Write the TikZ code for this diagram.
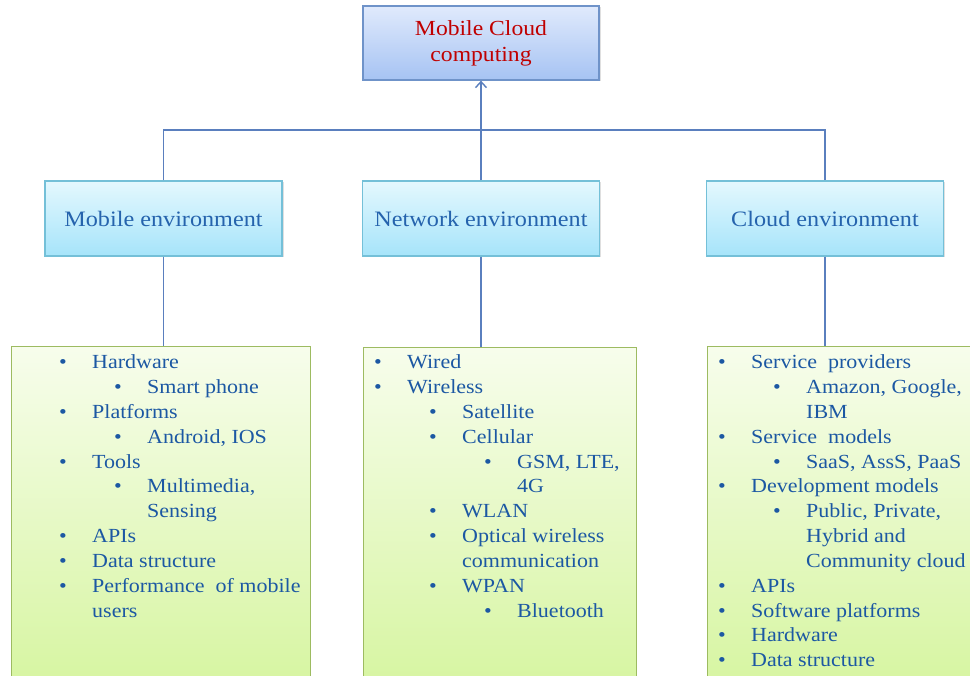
\documentclass[tikz,border=0pt]{standalone}
\usepackage{fontspec}
\setmainfont{Liberation Serif}[FakeStretch=1.1]
\usetikzlibrary{arrows.meta, positioning, shadows}
\definecolor{linkblue}{HTML}{5A7FBE}
\definecolor{titlered}{HTML}{C00000}
\definecolor{topedge}{HTML}{6F93C9}
\definecolor{toptop}{HTML}{E0EAFC}
\definecolor{topbot}{HTML}{A6C3F3}
\definecolor{envedge}{HTML}{74C0D8}
\definecolor{envtop}{HTML}{E4F8FE}
\definecolor{envbot}{HTML}{A6E4FA}
\definecolor{envtext}{HTML}{2563AD}
\definecolor{listedge}{HTML}{9DBB61}
\definecolor{listtop}{HTML}{F7FDEC}
\definecolor{listbot}{HTML}{D6F5A0}
\definecolor{itemblue}{HTML}{1C58A3}
\tikzset{
  topbox/.style={draw=topedge, line width=1.3pt, top color=toptop, bottom color=topbot, minimum width=236pt, minimum height=74pt, align=center, text=titlered, font=\fontsize{21.5}{26}\selectfont, drop shadow={shadow xshift=1.5pt, shadow yshift=-1.5pt, opacity=.25}},
  envbox/.style={draw=envedge, line width=1.3pt, top color=envtop, bottom color=envbot, minimum width=237pt, minimum height=75pt, text=envtext, font=\fontsize{22}{26}\selectfont, drop shadow={shadow xshift=1.5pt, shadow yshift=-1.5pt, opacity=.25}},
  listbox/.style={draw=listedge, line width=1.3pt, top color=listtop, bottom color=listbot, minimum height=344pt, anchor=north west, inner sep=0pt},
  item/.style={anchor=base west, inner sep=0pt, text=itemblue, font=\fontsize{20}{24.8}\selectfont},
  dot/.style={anchor=base, inner sep=0pt, text=itemblue, font=\fontsize{20}{24.8}\selectfont},
  link/.style={draw=linkblue, line width=1.4pt}
}
% #1 name prefix, #2 x of first bullet, #3 first baseline, #4 rows: row/level/bullet/text
\newcommand{\listlines}[4]{%
  \foreach \rw/\lv/\bu/\tx in {#4}{
    \pgfmathsetmacro{\bx}{#2+55*(\lv-1)}
    \pgfmathsetmacro{\by}{#3+24.8*\rw}
    \ifnum\bu=1 \node[dot] (#1-b\rw) at (\bx,\by) {\textbullet}; \fi
    \node[item] (#1-\rw) at (\bx+29,\by) {\tx};
  }
}
\begin{document}
\begin{tikzpicture}[x=1pt, y=-1pt]
    \useasboundingbox (0,0) rectangle (970,676);
    \clip (0,0) rectangle (970,676);

    % top and environment boxes
    \node[topbox] (top) at (481,43) {Mobile Cloud\\computing};
    \node[envbox] (mobile) at (163.5,218.5) {Mobile environment};
    \node[envbox] (net) at (481,218.5) {Network environment};
    \node[envbox] (cloud) at (825,218.5) {Cloud environment};
    \coordinate (bus) at (481,130);

    % list boxes
    \node[listbox, minimum width=299pt] (mobilelist) at (11,346) {};
    \node[listbox, minimum width=273pt] (netlist) at (363,347) {};
    \node[listbox, minimum width=280pt] (cloudlist) at (707,346) {};

    % connectors
    \draw[link] (mobile.north) |- (bus) -| (cloud.north);
    \draw[link, -{Straight Barb[length=6pt, width=11pt]}] (net.north) -- (top.south);
    \draw[link] (mobile.south) -- (mobile.south |- mobilelist.north);
    \draw[link] (net.south) -- (net.south |- netlist.north);
    \draw[link] (cloud.south) -- (cloud.south |- cloudlist.north);

    % list texts
    \listlines{ml}{63}{369}{0/1/1/Hardware, 1/2/1/Smart phone, 2/1/1/Platforms,
      3/2/1/{Android, IOS}, 4/1/1/Tools, 5/2/1/{Multimedia,}, 6/2/0/Sensing,
      7/1/1/APIs, 8/1/1/Data structure, 9/1/1/Performance~ of mobile, 10/1/0/users}
    \listlines{nl}{378}{369}{0/1/1/Wired, 1/1/1/Wireless, 2/2/1/Satellite,
      3/2/1/Cellular, 4/3/1/{GSM, LTE,}, 5/3/0/4G, 6/2/1/WLAN,
      7/2/1/Optical wireless, 8/2/0/communication, 9/2/1/WPAN, 10/3/1/Bluetooth}
    \listlines{cl}{722}{369}{0/1/1/Service~ providers, 1/2/1/{Amazon, Google,},
      2/2/0/IBM, 3/1/1/Service~ models, 4/2/1/{SaaS, AssS, PaaS},
      5/1/1/Development models, 6/2/1/{Public, Private,}, 7/2/0/Hybrid and,
      8/2/0/Community cloud, 9/1/1/APIs, 10/1/1/Software platforms,
      11/1/1/Hardware, 12/1/1/Data structure}
\end{tikzpicture}
\end{document}
